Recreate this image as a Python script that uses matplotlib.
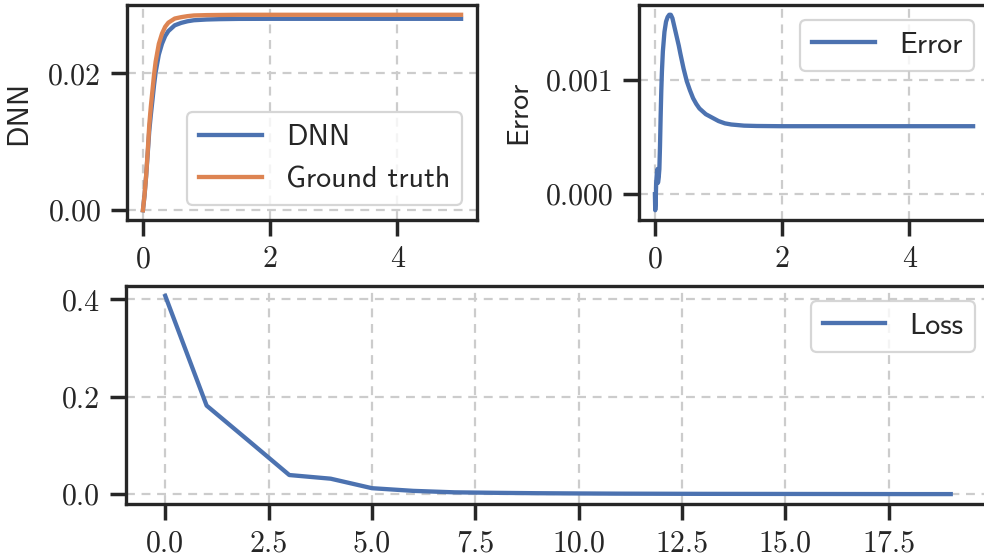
import matplotlib
matplotlib.use("Agg")
import matplotlib.pyplot as plt
from matplotlib.ticker import FormatStrFormatter

# --- data ---
t_sol = [0, 0.025, 0.05, 0.075, 0.1, 0.125, 0.15, 0.175, 0.2, 0.25, 0.3, 0.35,
         0.4, 0.5, 0.6, 0.7, 0.8, 1.0, 1.2, 1.5, 2.0, 3.0, 4.0, 5.0]
ground_truth = [0.0, 0.0022, 0.0050, 0.0085, 0.0125, 0.0152, 0.0175, 0.0198,
                0.0217, 0.0243, 0.0258, 0.0268, 0.0274, 0.0280, 0.0282, 0.02835,
                0.02845, 0.0285, 0.02852, 0.02855, 0.02855, 0.02855, 0.02855, 0.02855]
dnn = [0.0, 0.0021, 0.0049, 0.0082, 0.0116, 0.01395, 0.01608, 0.01829,
       0.02015, 0.02273, 0.02432, 0.02544, 0.02617, 0.02701, 0.02736, 0.0276,
       0.02775, 0.02786, 0.02791, 0.02795, 0.02796, 0.02796, 0.02796, 0.02796]

t_err = [0, 0.005, 0.01, 0.02, 0.03, 0.04, 0.046, 0.048, 0.06, 0.07, 0.08, 0.09,
         0.1, 0.11, 0.125, 0.15, 0.175, 0.2, 0.225, 0.25, 0.275, 0.3, 0.325,
         0.35, 0.375, 0.4, 0.45, 0.5, 0.55, 0.6, 0.65, 0.7, 0.8, 0.9, 1.0, 1.1,
         1.2, 1.4, 1.6, 2.0, 3.0, 4.0, 5.0]
error = [0.0, -0.00014, -0.0001, 0.0001, 0.00018, 0.00022, 0.00022, 0.0001,
         0.00015, 0.00022, 0.00042, 0.00068, 0.0009, 0.00107, 0.00125, 0.00142,
         0.00151, 0.00155, 0.00157, 0.00157, 0.00154, 0.00148, 0.00142, 0.00136,
         0.0013, 0.00123, 0.0011, 0.00099, 0.00091, 0.00084, 0.00079, 0.00075,
         0.0007, 0.00067, 0.00064, 0.00062, 0.00061, 0.0006, 0.000597, 0.000595,
         0.000595, 0.000595, 0.000595]

epochs = list(range(20))
loss = [0.407, 0.182, 0.111, 0.0395, 0.032, 0.0125, 0.007, 0.004, 0.003, 0.0022,
        0.0017, 0.0013, 0.0011, 0.0009, 0.0008, 0.0007, 0.0006, 0.0005, 0.0004, 0.0004]

blue = "#4C72B0"
orange = "#DD8452"
dark = "#262626"

plt.rcParams["font.family"] = "serif"
plt.rcParams["font.serif"] = ["cmr10"]
plt.rcParams["axes.formatter.use_mathtext"] = True
sans = "cmss10"
fs = 21.5
lw = 3.1

fig = plt.figure(figsize=(9.84, 5.59), dpi=100)
ax1 = fig.add_axes([127 / 984, 1 - 220 / 559, 350 / 984, 215 / 559])
ax2 = fig.add_axes([639 / 984, 1 - 220 / 559, 350 / 984, 215 / 559])
ax3 = fig.add_axes([126 / 984, 1 - 504 / 559, 864 / 984, 218 / 559])


def style(ax):
    for s in ax.spines.values():
        s.set_color(dark)
        s.set_linewidth(2.4)
    ax.tick_params(axis="both", which="major", length=11.5, width=2.5,
                   color=dark, labelsize=fs, pad=7, labelcolor=dark)
    ax.grid(True, linestyle="--", color="#cccccc", linewidth=1.6, dashes=(4, 3))
    ax.set_axisbelow(True)


def legend(ax, loc):
    leg = ax.legend(loc=loc, prop={"family": sans, "size": fs}, handlelength=2.1,
                    handletextpad=0.8, borderaxespad=0.5, fancybox=True,
                    framealpha=0.8, edgecolor="#cccccc")
    leg.get_frame().set_linewidth(1.6)
    for txt in leg.get_texts():
        txt.set_color(dark)


# top left: DNN vs ground truth
ax1.plot(t_sol, dnn, color=blue, lw=lw, label="DNN")
ax1.plot(t_sol, ground_truth, color=orange, lw=lw, label="Ground truth")
ax1.set_xticks([0, 2, 4])
ax1.set_yticks([0.0, 0.02])
ax1.xaxis.set_major_formatter(FormatStrFormatter("%d"))
ax1.yaxis.set_major_formatter(FormatStrFormatter("%.2f"))
ax1.set_ylabel("DNN", family=sans, fontsize=fs, color=dark)
ax1.yaxis.set_label_coords(-0.27, 0.5)
style(ax1)
legend(ax1, "lower right")

# top right: error
ax2.plot(t_err, error, color=blue, lw=lw, label="Error")
ax2.set_xlim(-0.25, 5.25)
ax2.set_xticks([0, 2, 4])
ax2.set_yticks([0.0, 0.001])
ax2.xaxis.set_major_formatter(FormatStrFormatter("%d"))
ax2.yaxis.set_major_formatter(FormatStrFormatter("%.3f"))
ax2.set_ylabel("Error", family=sans, fontsize=fs, color=dark)
ax2.yaxis.set_label_coords(-0.305, 0.5)
style(ax2)
legend(ax2, "upper right")

# bottom: loss
ax3.plot(epochs, loss, color=blue, lw=lw, label="Loss")
ax3.set_xticks([0, 2.5, 5, 7.5, 10, 12.5, 15, 17.5])
ax3.set_yticks([0.0, 0.2, 0.4])
ax3.xaxis.set_major_formatter(FormatStrFormatter("%.1f"))
ax3.yaxis.set_major_formatter(FormatStrFormatter("%.1f"))
style(ax3)
legend(ax3, "upper right")

fig.savefig("out.png", dpi=100)
